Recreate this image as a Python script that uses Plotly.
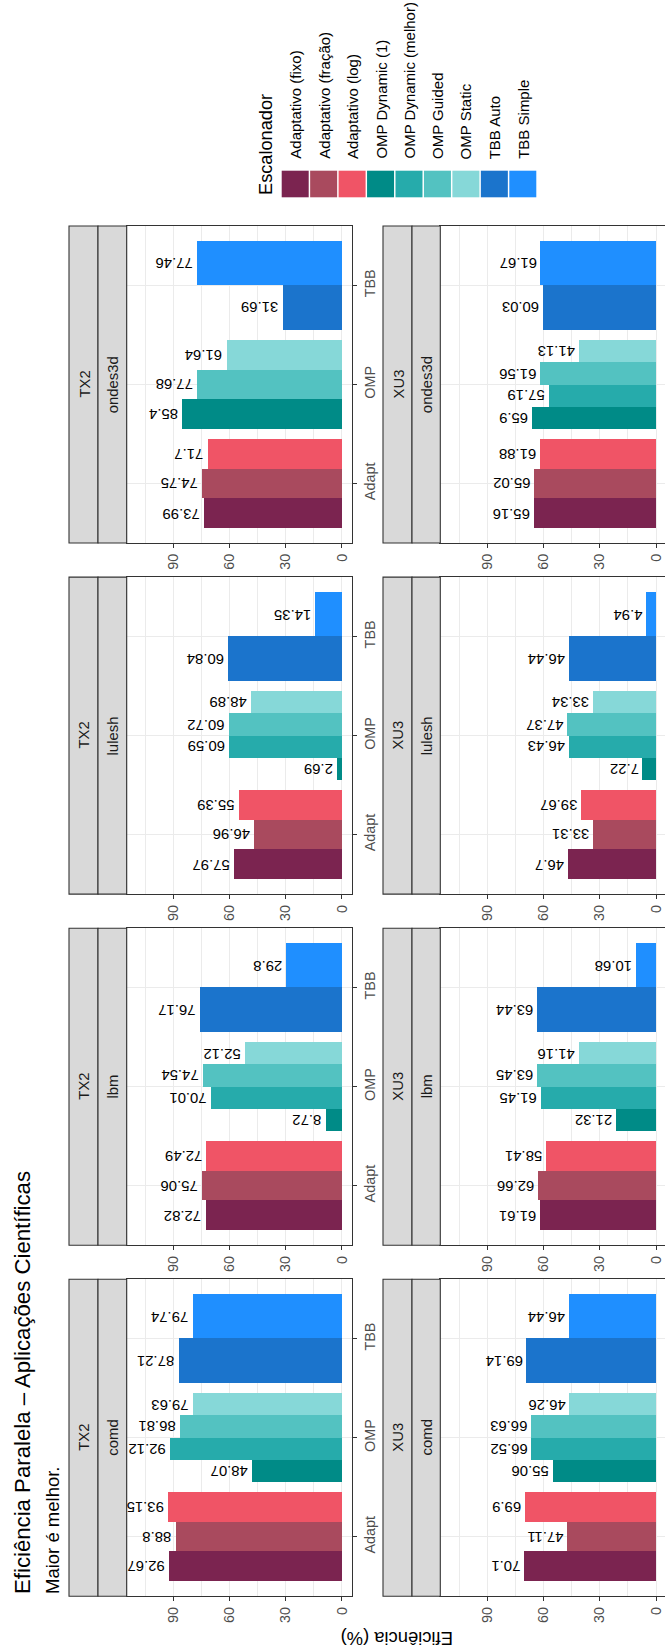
import plotly.graph_objects as go

W, H = 665, 1650
FONT = "Liberation Sans, Arial, Helvetica, sans-serif"

# ---------------- data ----------------
machines = ["TX2", "XU3"]
apps = ["ondes3d", "lulesh", "lbm", "comd"]          # top to bottom in the picture
categories = ["Adapt", "OMP", "TBB"]
series = ["Adaptativo (fixo)", "Adaptativo (fração)", "Adaptativo (log)",
          "OMP Dynamic (1)", "OMP Dynamic (melhor)", "OMP Guided", "OMP Static",
          "TBB Auto", "TBB Simple"]
series_cat = ["Adapt", "Adapt", "Adapt", "OMP", "OMP", "OMP", "OMP", "TBB", "TBB"]
colors = ["#7B2450", "#A94A5E", "#F05466", "#008B87", "#26ABAB",
          "#53C2C1", "#86D8D8", "#1B74CC", "#1F8FFF"]

tx2_ondes3d = [73.99, 74.75, 71.7, 85.4, None, 77.68, 61.64, 31.69, 77.46]
tx2_lulesh = [57.97, 46.96, 55.39, 2.69, 60.59, 60.72, 48.89, 60.84, 14.35]
tx2_lbm = [72.82, 75.06, 72.49, 8.72, 70.01, 74.54, 52.12, 76.17, 29.8]
tx2_comd = [92.67, 88.8, 93.15, 48.07, 92.12, 86.81, 79.63, 87.21, 79.74]
xu3_ondes3d = [65.16, 65.02, 61.88, 65.9, 57.19, 61.56, 41.13, 60.03, 61.67]
xu3_lulesh = [46.7, 33.31, 39.67, 7.22, 46.43, 47.37, 33.34, 46.44, 4.94]
xu3_lbm = [61.61, 62.66, 58.41, 21.32, 61.45, 63.45, 41.16, 63.44, 10.68]
xu3_comd = [70.1, 47.11, 69.9, 55.06, 66.52, 66.63, 46.26, 69.14, 46.44]

values = {
    ("TX2", "ondes3d"): tx2_ondes3d, ("TX2", "lulesh"): tx2_lulesh,
    ("TX2", "lbm"): tx2_lbm, ("TX2", "comd"): tx2_comd,
    ("XU3", "ondes3d"): xu3_ondes3d, ("XU3", "lulesh"): xu3_lulesh,
    ("XU3", "lbm"): xu3_lbm, ("XU3", "comd"): xu3_comd,
}
value_ticks = [0, 30, 60, 90]
minor_ticks = [15, 45, 75, 105]

title = "Eficiência Paralela – Aplicações Científicas"
subtitle = "Maior é melhor."
axis_title = "Eficiência (%)"
legend_title = "Escalonador"

# ---------------- layout geometry (pixels) ----------------
col_strip1 = {"TX2": 69, "XU3": 383}
col_strip2 = {"TX2": 98, "XU3": 412}
col_panel = {"TX2": (126.7, 352.3), "XU3": (440.3, 665)}
col_range = {"TX2": [114.9, -5.5], "XU3": [115.15, -4.8]}
row_top0, row_pitch, row_h = 226.0, 351.1, 317.0


def px(x):
    return x / W


def py(y):
    return 1 - y / H


fig = go.Figure()
annotations = []
shapes = []
layout_axes = {}

GRID = "#EBEBEB"
LINE = "#333333"
TICK_SIZE = 14.4
LABEL_SIZE = 14.9

k = 0
for mi, m in enumerate(machines):
    for ai, a in enumerate(apps):
        k += 1
        xa = "x" if k == 1 else f"x{k}"
        ya = "y" if k == 1 else f"y{k}"
        top = row_top0 + ai * row_pitch
        bot = top + row_h
        x0, x1 = col_panel[m]
        vals = values[(m, a)]

        # bars (dodged within each category, width 0.9 shared by present bars)
        for ci, c in enumerate(categories):
            idx = [i for i, s in enumerate(series) if series_cat[i] == c and vals[i] is not None]
            n = len(idx)
            w = 0.9 / n
            for j, i in enumerate(idx):
                pos = (ci + 1) - 0.45 + w * (j + 0.5)
                fig.add_trace(go.Bar(
                    x=[vals[i]], y=[pos], width=[w], orientation="h",
                    marker=dict(color=colors[i], line=dict(width=0)),
                    name=series[i], showlegend=False, xaxis=xa, yaxis=ya,
                    hoverinfo="skip"))
                annotations.append(dict(
                    x=vals[i], y=pos, xref=xa, yref=ya, text=f"{vals[i]:g}",
                    showarrow=False, textangle=180, xanchor="right", yanchor="middle",
                    xshift=-2, font=dict(family=FONT, size=LABEL_SIZE, color="#000000")))

        layout_axes["xaxis" if k == 1 else f"xaxis{k}"] = dict(
            domain=[px(x0), px(x1)], anchor=ya, range=col_range[m],
            tickmode="array", tickvals=value_ticks, ticktext=[str(v) for v in value_ticks],
            tickangle=-90, ticks="outside", ticklen=4, tickwidth=1.1, tickcolor=LINE,
            tickfont=dict(family=FONT, size=TICK_SIZE, color="#4D4D4D"),
            showgrid=True, gridcolor=GRID, gridwidth=1.1, zeroline=False,
            minor=dict(tickmode="array", tickvals=minor_ticks, showgrid=True,
                       gridcolor=GRID, gridwidth=0.55, ticks=""),
            showline=True, mirror=True, linecolor=LINE, linewidth=1.1,
            fixedrange=True)
        yax = dict(
            domain=[py(bot), py(top)], anchor=xa, range=[0.4, 3.6],
            tickmode="array", tickvals=[1, 2, 3], ticktext=categories,
            showgrid=True, gridcolor=GRID, gridwidth=1.1, zeroline=False,
            showline=True, mirror=True, linecolor=LINE, linewidth=1.1,
            fixedrange=True)
        if m == "TX2":
            yax.update(side="right", tickangle=-90, ticks="outside", ticklen=4,
                       tickwidth=1.1, tickcolor=LINE,
                       tickfont=dict(family=FONT, size=TICK_SIZE, color="#4D4D4D"))
        else:
            yax.update(side="left", showticklabels=False, ticks="")
        layout_axes["yaxis" if k == 1 else f"yaxis{k}"] = yax

        # strips
        for (sx0, sx1, label) in [(col_strip1[m], col_strip2[m], m),
                                  (col_strip2[m], x0, a)]:
            shapes.append(dict(type="rect", xref="paper", yref="paper",
                               x0=px(sx0), x1=px(sx1), y0=py(bot), y1=py(top),
                               fillcolor="#D9D9D9", line=dict(color=LINE, width=1.1),
                               layer="above"))
            annotations.append(dict(
                x=px((sx0 + sx1) / 2 + 0.5), y=py((top + bot) / 2), xref="paper", yref="paper",
                text=label, showarrow=False, textangle=-90, xanchor="center",
                yanchor="middle", font=dict(family=FONT, size=14.9, color="#1A1A1A")))

# ---------------- titles ----------------
annotations.append(dict(x=px(22.5), y=py(1596), xref="paper", yref="paper", text=title,
                        showarrow=False, textangle=-90, xanchor="center", yanchor="bottom",
                        font=dict(family=FONT, size=22.2, color="#000000")))
annotations.append(dict(x=px(52), y=py(1596), xref="paper", yref="paper", text=subtitle,
                        showarrow=False, textangle=-90, xanchor="center", yanchor="bottom",
                        font=dict(family=FONT, size=18.5, color="#000000")))
annotations.append(dict(x=px(397), y=py(1639), xref="paper", yref="paper", text=axis_title,
                        showarrow=False, textangle=180, xanchor="center", yanchor="middle",
                        font=dict(family=FONT, size=18.4, color="#000000")))

# ---------------- legend (drawn rotated, like the reference) ----------------
annotations.append(dict(x=px(266), y=py(197.5), xref="paper", yref="paper", text=legend_title,
                        showarrow=False, textangle=-90, xanchor="center", yanchor="bottom",
                        font=dict(family=FONT, size=18.2, color="#000000")))
key0, key_pitch, key_w = 281.7, 28.45, 27.0
for i, s in enumerate(series):
    kx0 = key0 + i * key_pitch
    shapes.append(dict(type="rect", xref="paper", yref="paper",
                       x0=px(kx0), x1=px(kx0 + key_w), y0=py(197.3), y1=py(170.7),
                       fillcolor=colors[i], line=dict(width=0)))
    annotations.append(dict(x=px(kx0 + key_w / 2 + 0.5), y=py(161), xref="paper", yref="paper",
                            text=s, showarrow=False, textangle=-90, xanchor="center",
                            yanchor="bottom",
                            font=dict(family=FONT, size=15.0, color="#000000")))

fig.update_layout(
    width=W, height=H, margin=dict(l=0, r=0, t=0, b=0),
    paper_bgcolor="white", plot_bgcolor="white", showlegend=False,
    bargap=0, annotations=annotations, shapes=shapes, **layout_axes)

fig.write_html("out.html")
